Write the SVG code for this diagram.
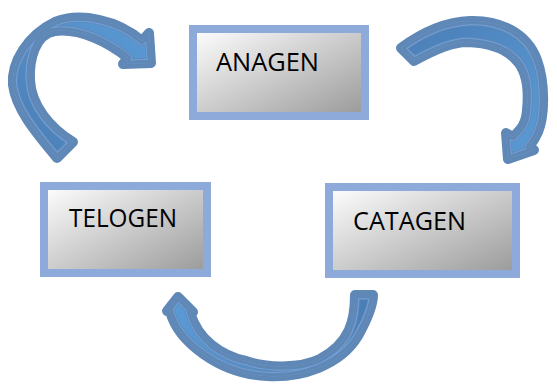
<svg xmlns="http://www.w3.org/2000/svg" xmlns:xlink="http://www.w3.org/1999/xlink" width="557" height="390" viewBox="0 0 557 390">
<style>
.box{stroke:#8eaadb;stroke-width:8;fill:url(#boxg)}
.lbl{font-family:"Open Sans","Liberation Sans",sans-serif;font-size:25px;fill:#000}
.band{stroke:#6088b7;stroke-width:10;stroke-linejoin:round}
.hl{fill:none;stroke:#72a0d6;stroke-width:8.5;stroke-linejoin:round}
.in{fill:none;stroke:#6088b7;stroke-width:6.5;stroke-linejoin:round}
</style>
<defs>
<linearGradient id="boxg" x1="0" y1="0" x2="1" y2="1">
<stop offset="0" stop-color="#ffffff"/>
<stop offset="1" stop-color="#999999"/>
</linearGradient>
<linearGradient id="g1" x1="0" y1="1" x2="1" y2="0">
<stop offset="0" stop-color="#4a7db5"/>
<stop offset="1" stop-color="#5b9bd6"/>
</linearGradient>
<linearGradient id="g2" x1="0" y1="0" x2="1" y2="1">
<stop offset="0" stop-color="#4a7db5"/>
<stop offset="1" stop-color="#5b9bd6"/>
</linearGradient>
<linearGradient id="g3" x1="1" y1="0" x2="0" y2="0">
<stop offset="0" stop-color="#4a7db5"/>
<stop offset="1" stop-color="#5b9bd6"/>
</linearGradient>
<path id="a1" d="M57,158 C38,135 16,110 13,85 C11,62 28,35 55,22 C80,12 118,20 142,41 L149,33 L151,63 L123,64 L128,58 C108,42 80,28 55,31 C35,34 29,60 30,80 C31,105 50,128 73,142 Z"/>
<path id="a2" d="M401,48 C420,34 445,22 470,21 C500,20 527,33 537,60 C545,82 545,115 538,132 C535,139 532,143 529,147 L534,150 L508,159 L506,133 L513,137 C520,130 526,125 527,110 C529,90 527,70 515,59 C505,48 490,43 467,42 C450,42 430,52 414,61 Z"/>
<path id="a3" d="M373,295 L355,295 C355,320 350,343 320,359 C300,369 265,368 246,361 C222,356 198,340 190,312 L193,312 L178,297 L167,311 L170,311 C178,342 220,374 267,376 C300,378 340,366 358,336 C368,318 373,305 373,295 Z"/>
<clipPath id="c1"><use xlink:href="#a1"/></clipPath>
<clipPath id="c2"><use xlink:href="#a2"/></clipPath>
<clipPath id="c3"><use xlink:href="#a3"/></clipPath>
</defs>
<g id="connectors">
<g id="arrow-telogen-anagen">
<use xlink:href="#a1" class="band" fill="url(#g1)"/>
<use xlink:href="#a1" class="hl" clip-path="url(#c1)"/>
<use xlink:href="#a1" class="in" clip-path="url(#c1)"/>
</g>
<g id="arrow-anagen-catagen">
<use xlink:href="#a2" class="band" fill="url(#g2)"/>
<use xlink:href="#a2" class="hl" clip-path="url(#c2)"/>
<use xlink:href="#a2" class="in" clip-path="url(#c2)"/>
</g>
<g id="arrow-catagen-telogen">
<use xlink:href="#a3" class="band" fill="url(#g3)"/>
<use xlink:href="#a3" class="hl" clip-path="url(#c3)"/>
<use xlink:href="#a3" class="in" clip-path="url(#c3)"/>
</g>
</g>
<g id="anagen">
<rect class="box" x="193" y="29" width="172" height="87"/>
<text class="lbl" x="216" y="71" textLength="103" lengthAdjust="spacingAndGlyphs">ANAGEN</text>
</g>
<g id="telogen">
<rect class="box" x="44" y="186" width="163" height="87"/>
<text class="lbl" x="69" y="227" textLength="108" lengthAdjust="spacingAndGlyphs">TELOGEN</text>
</g>
<g id="catagen">
<rect class="box" x="329" y="187" width="187" height="87"/>
<text class="lbl" x="353" y="230" textLength="113" lengthAdjust="spacingAndGlyphs">CATAGEN</text>
</g>
</svg>
